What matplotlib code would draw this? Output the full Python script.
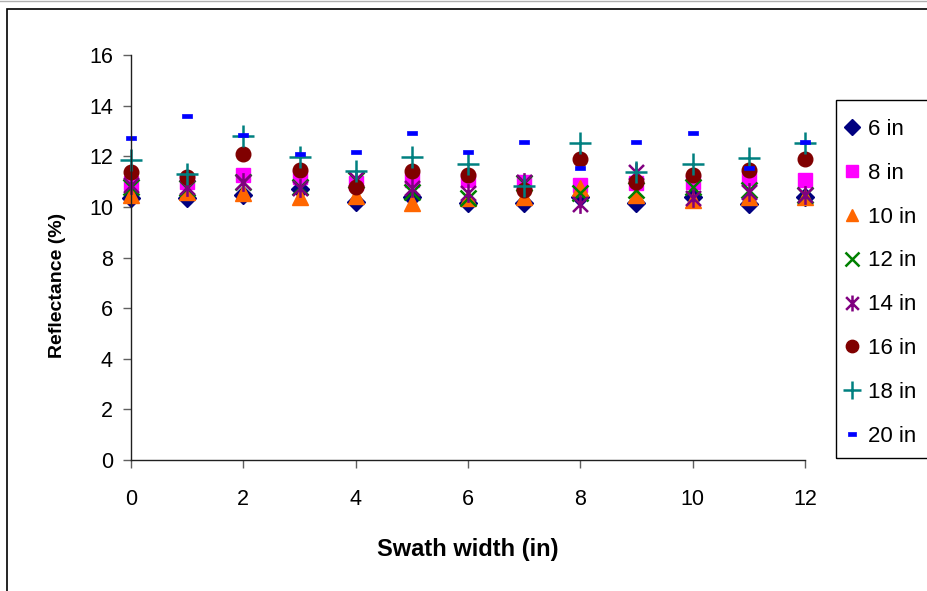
import matplotlib
matplotlib.use("Agg")
import matplotlib.pyplot as plt
from matplotlib.path import Path
from matplotlib.patches import Rectangle
from matplotlib.lines import Line2D

plt.rcParams['font.family'] = ['Liberation Sans', 'DejaVu Sans']

x = [0, 1, 2, 3, 4, 5, 6, 7, 8, 9, 10, 11, 12]
s6  = [10.35, 10.34, 10.47, 10.70, 10.20, 10.40, 10.17, 10.14, 10.40, 10.14, 10.40, 10.11, 10.40]
s8  = [10.95, 11.00, 11.26, 11.19, 10.93, 11.06, 11.06, 11.00, 10.87, 10.93, 11.00, 11.13, 11.06]
s10 = [10.47, 10.60, 10.54, 10.40, 10.43, 10.14, 10.35, 10.40, 10.75, 10.47, 10.27, 10.40, 10.40]
s12 = [10.80, 10.73, 11.00, 10.80, 11.06, 10.60, 10.35, 10.95, 10.54, 10.67, 10.80, 10.67, 10.47]
s14 = [10.87, 10.80, 11.00, 10.73, 11.10, 10.73, 10.55, 11.00, 10.10, 11.39, 10.34, 10.60, 10.47]
s16 = [11.39, 11.19, 12.09, 11.46, 10.77, 11.43, 11.26, 10.67, 11.89, 11.00, 11.26, 11.46, 11.89]
s18 = [11.85, 11.30, 12.80, 11.96, 11.42, 11.96, 11.70, 10.83, 12.51, 11.39, 11.70, 11.92, 12.51]
s20 = [12.73, 13.59, 12.84, 12.09, 12.18, 12.93, 12.18, 12.55, 11.52, 12.55, 12.93, 11.52, 12.55]
labels = ['6 in', '8 in', '10 in', '12 in', '14 in', '16 in', '18 in', '20 in']
series = [s6, s8, s10, s12, s14, s16, s18, s20]

ast = Path([(-1, -1), (1, 1), (-1, 1), (1, -1), (0, -1.25), (0, 1.25)],
           [Path.MOVETO, Path.LINETO, Path.MOVETO, Path.LINETO, Path.MOVETO, Path.LINETO])
dash = Path([(-1, -0.45), (1, -0.45), (1, 0.45), (-1, 0.45), (-1, -0.45)],
            [Path.MOVETO, Path.LINETO, Path.LINETO, Path.LINETO, Path.CLOSEPOLY])

styles = [
    dict(marker='D', color='#000080', ms=9.5, mec='#000080'),
    dict(marker='s', color='#FF00FF', ms=10, mec='#FF00FF'),
    dict(marker='^', color='#FF6600', ms=11, mec='#FF6600'),
    dict(marker='x', color='#008000', ms=11.5, mew=1.8),
    dict(marker=ast, color='#800080', ms=13.5, mew=1.8, mfc='none'),
    dict(marker='o', color='#800000', ms=10.5, mec='#800000'),
    dict(marker='+', color='#008080', ms=15.5, mew=1.8),
    dict(marker=dash, color='#0000FF', ms=7.5, mec='#0000FF', mew=0.5),
]

fig = plt.figure(figsize=(9.27, 5.91), dpi=100)
ax = fig.add_axes([131/927, 131/591, 674/927, 405/591])

for s, lab, st in zip(series, labels, styles):
    ax.plot(x, s, linestyle='none', label=lab, clip_on=False, **st)

ax.set_xlim(0, 12)
ax.set_ylim(0, 16)
ax.set_xticks(range(0, 13, 2))
ax.set_yticks(range(0, 17, 2))
for sp in ['top', 'right']:
    ax.spines[sp].set_visible(False)
for sp in ['left', 'bottom']:
    ax.spines[sp].set_color('#202020')
    ax.spines[sp].set_linewidth(1.0)
ax.tick_params(axis='both', direction='out', length=6, width=1, color='#606060',
               labelsize=15.5, pad=7)
ax.tick_params(axis='x', pad=15)

ax.set_xlabel('Swath width (in)', fontsize=17, fontweight='bold', labelpad=20)
ax.set_ylabel('Reflectance (%)', fontsize=14, fontweight='bold')
ax.yaxis.set_label_coords(-0.097, 0.43)

leg = fig.legend(loc='upper left', bbox_to_anchor=(824/927, 1 - 101/591),
                 frameon=False, fontsize=16,
                 labelspacing=1.03, handlelength=0.9, handletextpad=0.3,
                 borderpad=0.8, borderaxespad=0, markerscale=0.85)

fig.patches.append(Rectangle((836/927, 1 - 458/591), 120/927, 358/591, transform=fig.transFigure,
                             fill=False, edgecolor='black', linewidth=1.0))
fig.patches.append(Rectangle((7/927, -0.1), 2.0, 1.1 - 9/591, transform=fig.transFigure,
                             fill=False, edgecolor='black', linewidth=1.2, zorder=-1))
fig.lines.append(Line2D([0, 1], [1 - 0.8/591, 1 - 0.8/591], transform=fig.transFigure,
                        color='#b0b0b0', linewidth=1.0))

fig.savefig('out.png', dpi=100)
